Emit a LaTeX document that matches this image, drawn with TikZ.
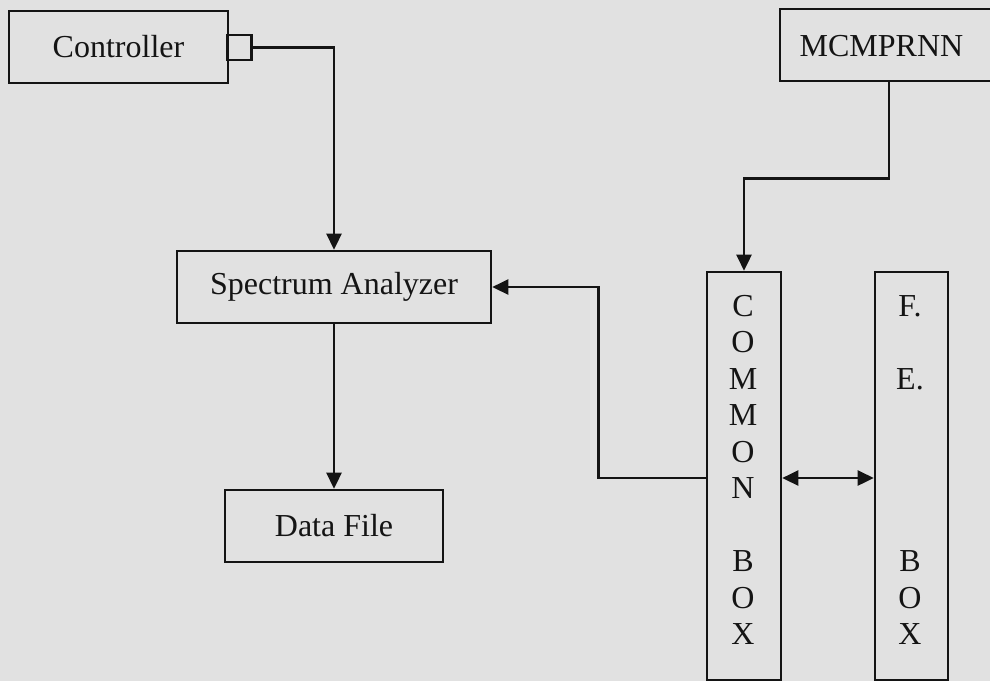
\documentclass[tikz,border=0pt]{standalone}
\usepackage{fontspec}
\setmainfont{Liberation Serif}
\usetikzlibrary{arrows.meta}
\definecolor{paper}{RGB}{225,225,225}
\definecolor{ink}{RGB}{20,20,20}
\tikzset{
  box/.style={draw=ink, line width=2.6pt, rectangle, inner sep=0pt, text=ink,
              font={\fontsize{32}{36.5}\selectfont}},
  wire/.style={draw=ink, line width=2.6pt},
  arr/.style={wire, -{Triangle[length=16pt,width=15pt]}},
  darr/.style={wire, {Triangle[length=16pt,width=15pt]}-{Triangle[length=16pt,width=15pt]}},
  vtext/.style={inner sep=0pt, align=center, text=ink, anchor=north,
              font={\fontsize{32}{36.5}\selectfont}}
}
\begin{document}
\begin{tikzpicture}[x=1pt,y=-1pt]
\fill[paper] (0,0) rectangle (990,681);
\useasboundingbox (0,0) rectangle (990,681);

\node[box, minimum width=219pt, minimum height=72pt] (ctrl) at (118.5,47) {Controller};
\node[box, minimum width=24pt, minimum height=25pt] (port) at (239.5,47.5) {};
\node[box, minimum width=211pt, minimum height=72pt] (mcm) at (885.5,45) {};
\node[text=ink, inner sep=0pt, font={\fontsize{32}{36.5}\selectfont}] (mcmtxt) at (881.5,46) {MCMPRNN};
\node[box, minimum width=314pt, minimum height=72pt] (spec) at (334,287) {Spectrum Analyzer};
\node[box, minimum width=218pt, minimum height=72pt] (data) at (334,526) {Data File};
\node[box, minimum width=74pt, minimum height=408pt] (common) at (744,476) {};
\node[box, minimum width=73pt, minimum height=408pt] (fe) at (911.5,476) {};

\node[vtext] (commontxt) at (743,295) {C\\O\\M\\M\\O\\N\\\mbox{}\\B\\O\\X};
\node[vtext] (fetxt) at (910,295) {F.\\\mbox{}\\E.\\\mbox{}\\\mbox{}\\\mbox{}\\\mbox{}\\B\\O\\X};

\draw[arr] (port.east) -| (spec.north);
\draw[arr] (spec.south) -- (data.north);
\draw[arr] ([xshift=3.5pt]mcm.south) -- ++(0,96) -| (common.north);
\draw[arr] ([yshift=-2pt]common.west) -- ++(-107,0) |- (spec.east);
\draw[darr] ([yshift=-2pt]common.east) -- ([yshift=-2pt]fe.west);
\end{tikzpicture}
\end{document}
